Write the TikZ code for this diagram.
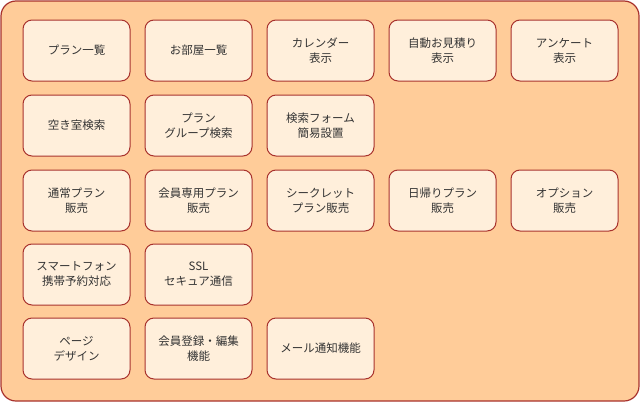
\documentclass[tikz,border=0pt]{standalone}
\usepackage{fontspec}
\newfontfamily\jp{Noto Sans CJK JP}
\definecolor{outerfill}{HTML}{FFCC99}
\definecolor{innerfill}{HTML}{FFEFDB}
\definecolor{edge}{HTML}{A8322D}
\definecolor{txt}{HTML}{333333}
\begin{document}
\begin{tikzpicture}[x=1pt,y=-1pt,
  item/.style={draw=edge, line width=1pt, fill=innerfill, rounded corners=9pt,
    minimum width=107pt, minimum height=61pt, inner sep=0pt, align=center,
    font=\jp\fontsize{11.5}{15}\selectfont, text=txt}]
\useasboundingbox (0,0) rectangle (640,402);
\draw[draw=edge, line width=1.2pt, fill=outerfill, rounded corners=15pt] (1,1) rectangle (639,401);
% row 1
\node[item] (a1) at (76.5,50.5) {プラン一覧};
\node[item] (a2) at (198.5,50.5) {お部屋一覧};
\node[item] (a3) at (320.5,50.5) {カレンダー\\表示};
\node[item] (a4) at (442.5,50.5) {自動お見積り\\表示};
\node[item] (a5) at (564.5,50.5) {アンケート\\表示};
% row 2
\node[item] (b1) at (76.5,125.5) {空き室検索};
\node[item] (b2) at (198.5,125.5) {プラン\\グループ検索};
\node[item] (b3) at (320.5,125.5) {検索フォーム\\簡易設置};
% row 3
\node[item] (c1) at (76.5,200.5) {通常プラン\\販売};
\node[item] (c2) at (198.5,200.5) {会員専用プラン\\販売};
\node[item] (c3) at (320.5,200.5) {シークレット\\プラン販売};
\node[item] (c4) at (442.5,200.5) {日帰りプラン\\販売};
\node[item] (c5) at (564.5,200.5) {オプション\\販売};
% row 4
\node[item] (d1) at (76.5,274.5) {スマートフォン\\携帯予約対応};
\node[item] (d2) at (198.5,274.5) {SSL\\セキュア通信};
% row 5
\node[item] (e1) at (76.5,348.5) {ページ\\デザイン};
\node[item] (e2) at (198.5,348.5) {会員登録・編集\\機能};
\node[item] (e3) at (320.5,348.5) {メール通知機能};
\end{tikzpicture}
\end{document}
